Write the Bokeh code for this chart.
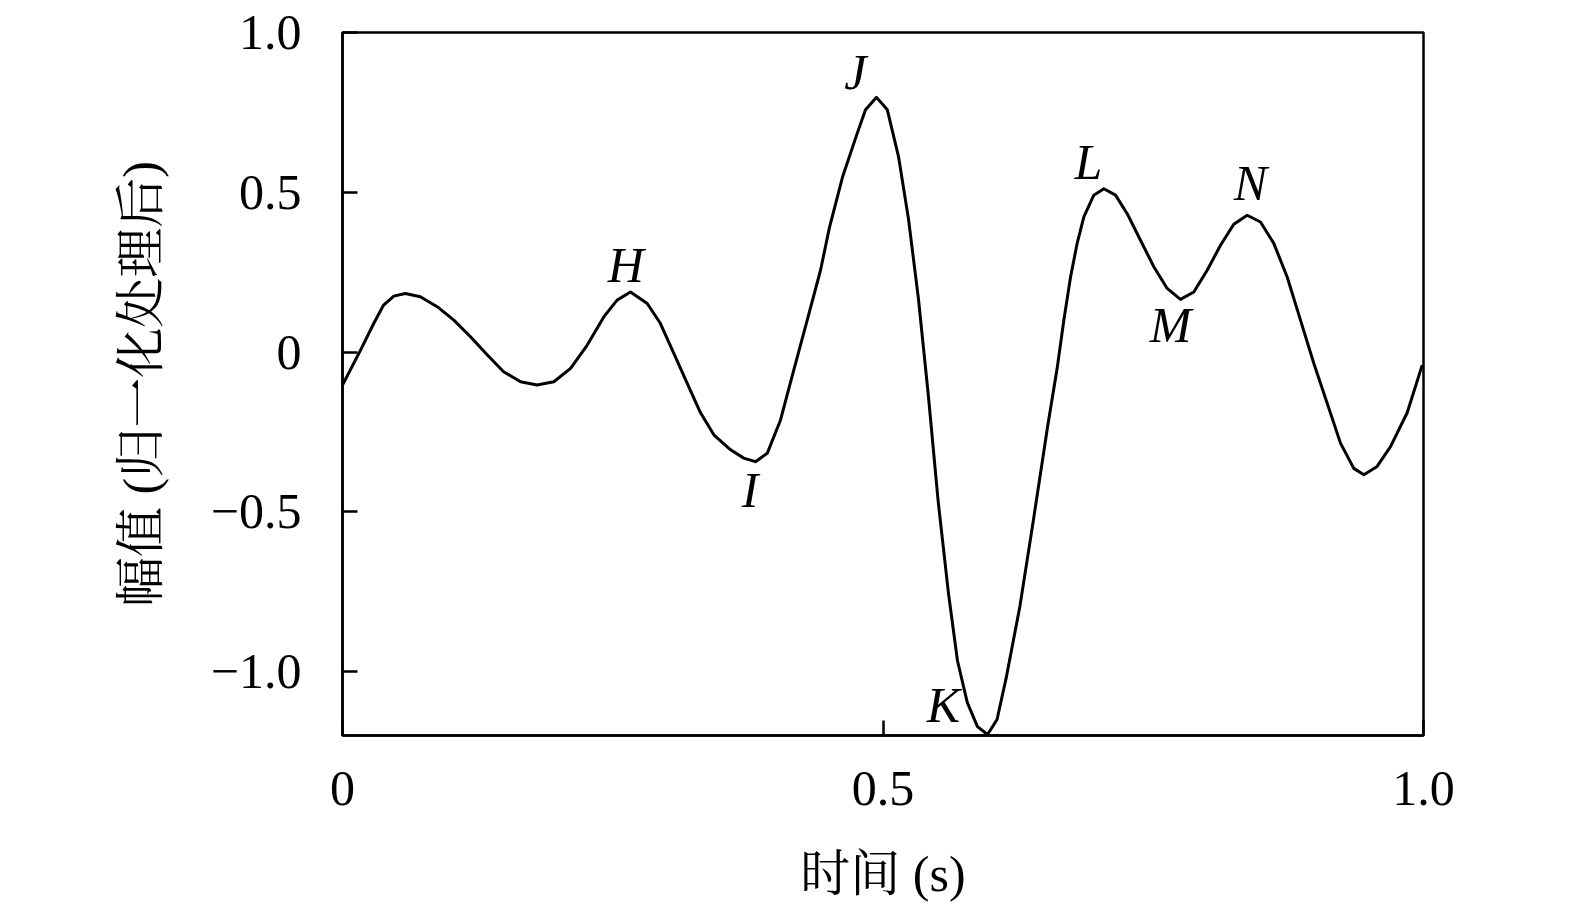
from bokeh.plotting import figure
from bokeh.models import FixedTicker, Range1d, CustomJSTickFormatter, ColumnDataSource
from bokeh.core.properties import value
from bokeh.embed import file_html
from bokeh.resources import INLINE

# curve: time (s) and normalized amplitude
t = [0.000, 0.0167, 0.029, 0.038, 0.0475, 0.058, 0.072, 0.0876, 0.103, 0.1184,
     0.134, 0.149, 0.1647, 0.180, 0.1955, 0.211, 0.2264, 0.2417, 0.254, 0.2664,
     0.2819, 0.294, 0.3065, 0.3189, 0.3312, 0.3435, 0.359, 0.3712, 0.382, 0.3929,
     0.4052, 0.4175, 0.4299, 0.4422, 0.4505, 0.4625, 0.4755, 0.4838, 0.494, 0.504,
     0.5143, 0.5236, 0.5328, 0.542, 0.551, 0.5606, 0.5689, 0.578, 0.5874, 0.5967,
     0.6055, 0.614, 0.6267, 0.6389, 0.6525, 0.6611, 0.6673, 0.6735, 0.6796, 0.6858,
     0.695, 0.7043, 0.7151, 0.7259, 0.7382, 0.7505, 0.7629, 0.7752, 0.7875, 0.7999,
     0.8122, 0.8245, 0.8369, 0.8492, 0.8615, 0.8739, 0.8862, 0.8985, 0.9109, 0.9232,
     0.9355, 0.9448, 0.9571, 0.9695, 0.9849, 0.9988]
amp = [-0.103, 0.006, 0.090, 0.147, 0.175, 0.183, 0.173, 0.142, 0.100, 0.048,
       -0.009, -0.0615, -0.093, -0.103, -0.093, -0.051, 0.022, 0.110, 0.1625, 0.188,
       0.152, 0.090, -0.004, -0.098, -0.190, -0.259, -0.306, -0.332, -0.343, -0.317,
       -0.2125, -0.056, 0.100, 0.256, 0.390, 0.547, 0.678, 0.758, 0.797, 0.758,
       0.6125, 0.416, 0.166, -0.1375, -0.466, -0.756, -0.966, -1.097, -1.172, -1.197,
       -1.150, -1.019, -0.795, -0.531, -0.228, -0.051, 0.100, 0.235, 0.340, 0.423,
       0.491, 0.511, 0.491, 0.433, 0.350, 0.267, 0.199, 0.165, 0.188, 0.256,
       0.334, 0.400, 0.428, 0.407, 0.340, 0.235, 0.100, -0.035, -0.160, -0.285,
       -0.364, -0.384, -0.358, -0.296, -0.190, -0.041]

# peak / trough letters
marks = ["H", "I", "J", "K", "L", "M", "N"]
mark_x = [0.262, 0.377, 0.4745, 0.556, 0.690, 0.766, 0.840]
mark_y = [0.272, -0.431, 0.875, -1.103, 0.594, 0.084, 0.528]

x_ticks = [0, 0.5, 1.0]
y_ticks = [-1.0, -0.5, 0, 0.5, 1.0]

serif = "Liberation Serif, Noto Serif CJK SC, Noto Sans CJK SC"

p = figure(frame_width=1081, frame_height=703,
           x_range=Range1d(0, 1.0), y_range=Range1d(-1.2, 1.0),
           output_backend="svg", toolbar_location=None,
           min_border_left=342, min_border_top=32,
           min_border_right=140, min_border_bottom=172,
           x_axis_label="时间 (s)", y_axis_label="幅值 (归一化处理后)")

p.xgrid.visible = False
p.ygrid.visible = False
p.outline_line_color = "black"
p.outline_line_width = 2.5
p.outline_line_alpha = 1.0

fmt = CustomJSTickFormatter(code="""
if (tick == 0) return "0";
if (tick < 0) return "\u2212" + (-tick).toFixed(1);
return tick.toFixed(1);
""")

for ax, ticks in ((p.xaxis[0], x_ticks), (p.yaxis[0], y_ticks)):
    ax.ticker = FixedTicker(ticks=ticks)
    ax.formatter = fmt
    ax.axis_line_color = "black"
    ax.axis_line_width = 2.5
    ax.major_tick_line_color = "black"
    ax.major_tick_line_width = 2.5
    ax.major_tick_in = 15
    ax.major_tick_out = 0
    ax.minor_tick_line_color = None
    ax.major_label_text_font = serif
    ax.major_label_text_font_size = "50px"
    ax.major_label_text_color = "black"
    ax.axis_label_text_font = serif
    ax.axis_label_text_font_size = "50px"
    ax.axis_label_text_font_style = "normal"
    ax.axis_label_text_color = "black"

p.xaxis.major_label_standoff = 36
p.xaxis.axis_label_standoff = 38
p.yaxis.major_label_standoff = 41
p.yaxis.axis_label_standoff = 39

p.line(t, amp, line_color="black", line_width=3, line_join="round")

src = ColumnDataSource(data=dict(x=mark_x, y=mark_y, s=marks))
p.text(x="x", y="y", text="s", source=src, text_font=value("Liberation Serif"),
       text_font_style="italic", text_font_size="50px", text_color="black",
       text_align="center", text_baseline="middle")

open("out.html", "w").write(file_html(p, INLINE))
